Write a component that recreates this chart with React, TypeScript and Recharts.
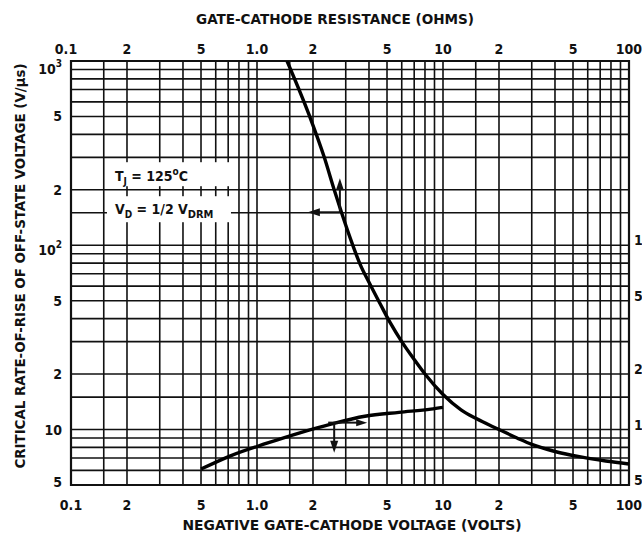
import React from "react";
import { LineChart, Line, XAxis, YAxis, CartesianGrid, ReferenceDot, ReferenceArea } from "recharts";

// ---- data ----
const resistanceOhms = [1.45, 1.92, 2.3, 2.6, 2.85, 3.25, 3.6, 4.0, 4.6, 5.2, 6.0, 7.0, 8.0, 10, 12.5, 15, 20, 25, 30, 40, 55, 75, 100];
const dvdtVsResistance = [1000, 500, 300, 200, 150, 102, 78, 63, 48, 38, 30, 24, 20, 15.5, 12.8, 11.5, 10, 9, 8.3, 7.6, 7.1, 6.75, 6.5];
const gateVolts = [0.5, 0.72, 1.12, 1.7, 2.5, 3.8, 5.8, 8.6, 10];
const dvdtVsVoltage = [6.1, 7.2, 8.4, 9.6, 10.7, 11.8, 12.4, 12.9, 13.2];

const xGridTicks = [0.1, 0.15, 0.2, 0.3, 0.4, 0.5, 0.6, 0.7, 0.8, 0.9, 1, 1.5, 2, 3, 4, 5, 6, 7, 8, 9, 10, 15, 20, 30, 40, 50, 60, 70, 80, 90, 100];
const xLabelValues = [0.1, 0.2, 0.5, 1, 2, 5, 10, 20, 50, 100];
const xLabelTexts = ["0.1", "2", "5", "1.0", "2", "5", "10", "2", "5", "100"];

const yGridTicks = [5, 6, 7, 8, 9, 10, 15, 20, 30, 40, 50, 60, 70, 80, 90, 100, 150, 200, 300, 400, 500, 600, 700, 800, 900, 1000];
const yLabelValues = [5, 10, 20, 50, 100, 200, 500, 1000];
const yLabelBase = ["5", "10", "2", "5", "10", "2", "5", "10"];
const yLabelExp = ["", "", "", "", "2", "", "", "3"];

const rightLabelValues = [5, 10, 20, 50, 100];
const rightLabelTexts = ["5", "10", "20", "50", "100"];

const titleTop = "GATE-CATHODE RESISTANCE (OHMS)";
const titleBottom = "NEGATIVE GATE-CATHODE VOLTAGE (VOLTS)";
const titleLeft = "CRITICAL RATE-OF-RISE OF OFF-STATE VOLTAGE (V/\u00B5s)";

const noteAnchor = { x: 0.162, y: 243 };
const arrowUpper = { x: 2.79, y: 151 };
const arrowLower = { x: 2.6, y: 10.9 };

const curveResistance = resistanceOhms.map((x, i) => ({ x, y: dvdtVsResistance[i] }));
const curveVoltage = gateVolts.map((x, i) => ({ x, y: dvdtVsVoltage[i] }));

// ---- style ----
const FONT = "'Liberation Sans Narrow','DejaVu Sans Condensed','Arial Narrow',sans-serif";
const txt: React.CSSProperties = { fontFamily: FONT, fontWeight: 700, fontStretch: "condensed" };
const INK = "#111";

const BottomTick = (p: any) => {
  const i = xLabelValues.indexOf(p.payload.value);
  if (i < 0) return <g />;
  return (
    <text x={p.x} y={p.y + 20} textAnchor="middle" dominantBaseline="central" fontSize={14} fill={INK} style={txt}>
      {xLabelTexts[i]}
    </text>
  );
};
const TopTick = (p: any) => {
  const i = xLabelValues.indexOf(p.payload.value);
  if (i < 0) return <g />;
  const dx = i === 0 ? -5 : 0;
  return (
    <text x={p.x + dx} y={p.y - 12} textAnchor="middle" dominantBaseline="central" fontSize={14} fill={INK} style={txt}>
      {xLabelTexts[i]}
    </text>
  );
};
const LeftTick = (p: any) => {
  const i = yLabelValues.indexOf(p.payload.value);
  if (i < 0) return <g />;
  const exp = yLabelExp[i];
  const dy = i === yLabelValues.length - 1 ? 8 : exp ? 5 : i === 0 ? -3 : 0;
  return (
    <text x={p.x - 9} y={p.y + dy} textAnchor="end" dominantBaseline="central" fontSize={14} fill={INK} style={txt}>
      {yLabelBase[i]}
      {exp ? (
        <tspan dy={-6} fontSize={10}>
          {exp}
        </tspan>
      ) : null}
    </text>
  );
};
const RightTick = (p: any) => {
  const i = rightLabelValues.indexOf(p.payload.value);
  if (i < 0) return <g />;
  return (
    <text x={p.x + 5} y={p.y - 5} textAnchor="start" dominantBaseline="central" fontSize={14} fill={INK} style={txt}>
      {rightLabelTexts[i]}
    </text>
  );
};

const NoteShape = (p: any) => {
  const { cx, cy } = p;
  return (
    <g>
      <rect x={cx - 3} y={cy - 12} width={128} height={24} fill="#fff" />
      <rect x={cx - 3} y={cy + 22} width={124} height={26} fill="#fff" />
      <text x={cx + 5} y={cy + 7} fontSize={14} fill={INK} style={txt}>
        T<tspan fontSize={10} dy={4}>J</tspan>
        <tspan dy={-4}> = 125</tspan>
        <tspan fontSize={10} dy={-6}>o</tspan>
        <tspan dy={6}>C</tspan>
      </text>
      <text x={cx + 5} y={cy + 40} fontSize={14} fill={INK} style={txt}>
        V<tspan fontSize={10} dy={4}>D</tspan>
        <tspan dy={-4}> = 1/2 V</tspan>
        <tspan fontSize={11} dy={4}>DRM</tspan>
      </text>
    </g>
  );
};

const ArrowUpLeft = (p: any) => {
  const { cx, cy } = p;
  return (
    <g>
      <line x1={cx} y1={cy} x2={cx} y2={cy - 24} stroke={INK} strokeWidth={2} />
      <polygon points={`${cx - 4},${cy - 22} ${cx + 4},${cy - 22} ${cx},${cy - 34}`} fill={INK} />
      <line x1={cx} y1={cy} x2={cx - 22} y2={cy} stroke={INK} strokeWidth={2} />
      <polygon points={`${cx - 20},${cy - 4} ${cx - 20},${cy + 4} ${cx - 32},${cy}`} fill={INK} />
    </g>
  );
};

const ArrowDownRight = (p: any) => {
  const { cx, cy } = p;
  return (
    <g>
      <line x1={cx} y1={cy} x2={cx} y2={cy + 20} stroke={INK} strokeWidth={2} />
      <polygon points={`${cx - 4},${cy + 18} ${cx + 4},${cy + 18} ${cx},${cy + 30}`} fill={INK} />
      <line x1={cx - 6} y1={cy} x2={cx + 24} y2={cy} stroke={INK} strokeWidth={2} />
      <polygon points={`${cx + 22},${cy - 3.5} ${cx + 22},${cy + 3.5} ${cx + 33},${cy}`} fill={INK} />
    </g>
  );
};

const TopTitle = () => (
  <text x={335} y={19} textAnchor="middle" dominantBaseline="central" fontSize={14} fill={INK} style={txt} textLength={278} lengthAdjust="spacingAndGlyphs">
    {titleTop}
  </text>
);
const BottomTitle = () => (
  <text x={352} y={525} textAnchor="middle" dominantBaseline="central" fontSize={14} fill={INK} style={txt} textLength={339} lengthAdjust="spacingAndGlyphs">
    {titleBottom}
  </text>
);
const LeftTitle = () => (
  <text x={20} y={266} transform="rotate(-90 20 266)" textAnchor="middle" dominantBaseline="central" fontSize={14} fill={INK} style={txt} textLength={405} lengthAdjust="spacingAndGlyphs">
    {titleLeft}
  </text>
);

export default function App() {
  return (
    <div style={{ position: "absolute", left: 0, top: 0, width: 642, height: 536, overflow: "hidden", background: "#fff" }}>
      <LineChart width={642} height={536} margin={{ top: 0, right: 0, bottom: 0, left: 0 }}>
        <XAxis
          xAxisId="bottom"
          orientation="bottom"
          type="number"
          dataKey="x"
          scale="log"
          domain={[0.1, 100]}
          allowDataOverflow
          ticks={xGridTicks}
          interval={0}
          height={51}
          tickSize={0}
          tickMargin={0}
          tickLine={false}
          axisLine={false}
          tick={BottomTick}
          label={{ content: BottomTitle }}
        />
        <XAxis
          xAxisId="top"
          orientation="top"
          type="number"
          dataKey="x"
          scale="log"
          domain={[0.1, 100]}
          allowDataOverflow
          ticks={xGridTicks}
          interval={0}
          height={61}
          tickSize={0}
          tickMargin={0}
          tickLine={false}
          axisLine={false}
          tick={TopTick}
          label={{ content: TopTitle }}
        />
        <YAxis
          yAxisId="left"
          orientation="left"
          type="number"
          scale="log"
          domain={[5, 1000]}
          allowDataOverflow
          ticks={yGridTicks}
          interval={0}
          width={71}
          tickSize={0}
          tickMargin={0}
          tickLine={false}
          axisLine={false}
          tick={LeftTick}
          label={{ content: LeftTitle }}
        />
        <YAxis
          yAxisId="right"
          orientation="right"
          type="number"
          scale="log"
          domain={[5, 1000]}
          allowDataOverflow
          ticks={rightLabelValues}
          interval={0}
          width={13}
          tickSize={0}
          tickMargin={0}
          tickLine={false}
          axisLine={false}
          tick={RightTick}
        />
        <CartesianGrid xAxisId="bottom" yAxisId="left" stroke={INK} strokeWidth={1.6} />
        <ReferenceArea
          xAxisId="bottom"
          yAxisId="left"
          x1={0.1}
          x2={100}
          y1={5}
          y2={1000}
          fill="none"
          fillOpacity={0}
          stroke={INK}
          strokeWidth={2.2}
          strokeOpacity={1}
        />
        <Line
          data={curveResistance}
          xAxisId="top"
          yAxisId="left"
          dataKey="y"
          type="monotone"
          stroke="#000"
          strokeWidth={3.4}
          dot={false}
          activeDot={false}
          isAnimationActive={false}
        />
        <Line
          data={curveVoltage}
          xAxisId="bottom"
          yAxisId="right"
          dataKey="y"
          type="monotone"
          stroke="#000"
          strokeWidth={3.4}
          dot={false}
          activeDot={false}
          isAnimationActive={false}
        />
        <ReferenceDot xAxisId="bottom" yAxisId="left" x={noteAnchor.x} y={noteAnchor.y} shape={NoteShape} />
        <ReferenceDot xAxisId="top" yAxisId="left" x={arrowUpper.x} y={arrowUpper.y} shape={ArrowUpLeft} />
        <ReferenceDot xAxisId="bottom" yAxisId="right" x={arrowLower.x} y={arrowLower.y} shape={ArrowDownRight} />
      </LineChart>
    </div>
  );
}
